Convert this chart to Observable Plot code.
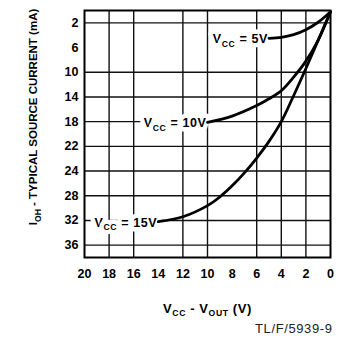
<!DOCTYPE html>
<html><head><meta charset="utf-8">
<script src="https://cdn.jsdelivr.net/npm/d3@7"></script>
<script src="https://cdn.jsdelivr.net/npm/@observablehq/plot@0.6"></script>
<style>body{margin:0;background:#fff}</style>
</head><body><div id="chart"></div>
<script>
// Tick values and labels
const xTicks = [20, 18, 16, 14, 12, 10, 8, 6, 4, 2, 0];
const yTickPos = [2, 6, 10, 14, 18, 22, 26, 30, 34, 38];
const yTickLabels = ["2", "6", "10", "14", "18", "22", "24", "28", "32", "36"];
const xGrid = [18, 16, 12, 10, 6, 4, 2];
const yGrid = [2, 10, 14, 18, 22, 26, 30, 34, 38];

// Series (x = VCC - VOUT, y = source current, in grid position units)
const v5x = [5, 4, 3, 2, 1, 0.5, 0];
const v5y = [4.5, 4.35, 3.9, 3.1, 1.9, 1.1, 0.2];
const v10x = [10, 8, 6, 5, 4, 3, 2, 1, 0];
const v10y = [18.1, 17.1, 15.4, 14.3, 13.0, 10.8, 8.2, 4.8, 0.2];
const v15x = [14, 12, 10, 9, 8, 7, 6, 5, 4, 3, 2, 1, 0];
const v15y = [34.2, 33.4, 31.6, 30.2, 28.4, 26.3, 23.9, 21.2, 18, 13.8, 9.4, 4.8, 0.2];

const seriesNames = ["V{CC} = 5V", "V{CC} = 10V", "V{CC} = 15V"];
const seriesX = [v5x, v10x, v15x];
const seriesY = [v5y, v10y, v15y];

const yLabel = "I{OH} - TYPICAL SOURCE CURRENT (mA)";
const xLabel = "V{CC} - V{OUT} (V)";
const figId = "TL/F/5939-9";

const lines = seriesX.map((xs, k) => xs.map((x, i) => ({x, y: seriesY[k][i], s: seriesNames[k]})));
const labelData = lines.map(l => l[0]);

const font = "'Liberation Sans', Arial, Helvetica, sans-serif";

const svg = Plot.plot({
  width: 340, height: 341,
  marginLeft: 84, marginRight: 10, marginTop: 10, marginBottom: 84,
  style: {fontFamily: font, fontSize: "12.5px", fontWeight: "bold", color: "#000", background: "#fff"},
  x: {domain: [20, 0], ticks: xTicks, tickSize: 0, tickPadding: 12, label: null},
  y: {domain: [0, 40], reverse: true, ticks: yTickPos, tickFormat: d => yTickLabels[yTickPos.indexOf(d)], tickSize: 0, tickPadding: 6, label: null},
  marks: [
    Plot.ruleX(xGrid, {stroke: "#111", strokeWidth: 1.4}),
    Plot.ruleY(yGrid, {stroke: "#111", strokeWidth: 1.4}),
    Plot.text(labelData, {x: "x", y: "y", text: "s", textAnchor: "end", dx: -1, dy: 1, fontSize: 12.5, fontWeight: "bold", fill: "#000", stroke: "#fff", strokeWidth: 9, strokeLinejoin: "round"}),
    ...lines.map(l => Plot.line(l, {x: "x", y: "y", stroke: "#000", strokeWidth: 2.8, curve: "catmull-rom"})),
    Plot.frame({stroke: "#000", strokeWidth: 2}),
    Plot.text([yLabel], {text: d => d, frameAnchor: "left", rotate: -90, dx: -51, dy: -17, textAnchor: "middle", fontSize: 11.5, fontWeight: "bold"}),
    Plot.text([xLabel], {text: d => d, frameAnchor: "bottom", dy: 55, fontSize: 13, fontWeight: "bold"}),
    Plot.text([figId], {text: d => d, frameAnchor: "bottom-right", textAnchor: "end", dx: 2, dy: 75, fontSize: 13, fontWeight: "normal", fill: "#222"})
  ]
});

// Subscripts: text segments in braces become lowered, smaller tspans
svg.querySelectorAll("text").forEach(t => {
  const s = t.textContent;
  if (!s.includes("{")) return;
  const fs = parseFloat(t.getAttribute("font-size")) || 12;
  while (t.firstChild) t.removeChild(t.firstChild);
  let lowered = false;
  for (const p of s.split(/(\{[^}]*\})/)) {
    if (!p) continue;
    const sp = document.createElementNS("http://www.w3.org/2000/svg", "tspan");
    if (p.startsWith("{")) {
      sp.textContent = p.slice(1, -1);
      sp.setAttribute("font-size", (fs * 0.72) + "px");
      if (!lowered) sp.setAttribute("dy", (fs * 0.3) + "px");
      lowered = true;
    } else {
      sp.textContent = p;
      if (lowered) sp.setAttribute("dy", (-fs * 0.3) + "px");
      lowered = false;
    }
    t.appendChild(sp);
  }
});
svg.querySelectorAll("text").forEach(t => {
  t.setAttribute("paint-order", "stroke");
  const s = t.textContent;
  if (/^TL\//.test(s) || s.startsWith("VCC")) t.setAttribute("letter-spacing", "0.6px");
});

document.getElementById("chart").appendChild(svg);
</script>
</body></html>
